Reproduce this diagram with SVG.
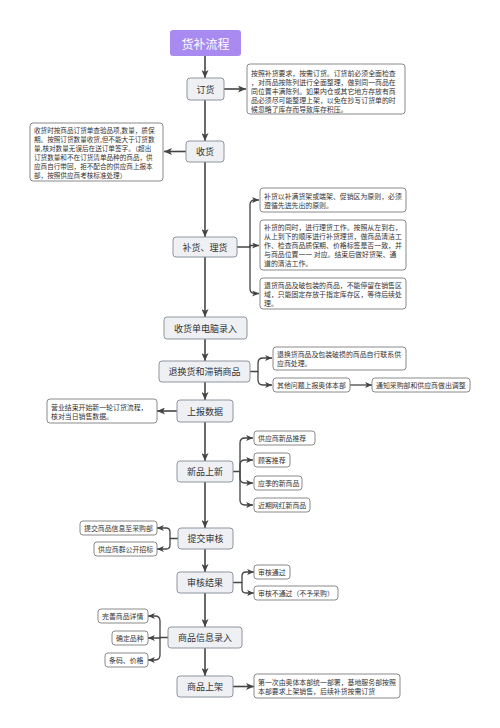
<svg xmlns="http://www.w3.org/2000/svg" width="500" height="728" viewBox="0 0 500 728">
<defs>
<marker id="ah" viewBox="0 0 8 7" refX="8" refY="3.5" markerWidth="8" markerHeight="7" markerUnits="userSpaceOnUse" orient="auto">
<path d="M0,0 L8,3.5 L0,7 L2,3.5 z" fill="#444"/>
</marker>
<marker id="ahs" viewBox="0 0 8 7" refX="8" refY="3.5" markerWidth="7" markerHeight="6" markerUnits="userSpaceOnUse" orient="auto">
<path d="M0,0 L8,3.5 L0,7 L2,3.5 z" fill="#444"/>
</marker>
</defs>
<style>
text{font-family:"Noto Sans CJK SC","Noto Sans",sans-serif;fill:#333;dominant-baseline:central}
.node rect{fill:#eef0f4;stroke:#8e949e;stroke-width:1}
.node text{font-size:9px;text-anchor:middle}
.note rect{fill:#fff;stroke:#7e7e7e;stroke-width:0.9}
.note text{font-size:6.9px}
.main{stroke:#444;stroke-width:1.6;fill:none;marker-end:url(#ah)}
.br{stroke:#444;stroke-width:1.3;fill:none;marker-end:url(#ahs)}
</style>
<rect width="500" height="728" fill="#fff"/>

<g id="connectors">
<path class="main" d="M205,56 V78"/>
<path class="main" d="M205,100 V141"/>
<path class="main" d="M205,162 V237"/>
<path class="main" d="M205,257 V317"/>
<path class="main" d="M205,339 V361"/>
<path class="main" d="M205,382 V400"/>
<path class="main" d="M205,422 V461"/>
<path class="main" d="M205,482 V528"/>
<path class="main" d="M205,549 V572"/>
<path class="main" d="M205,593 V627"/>
<path class="main" d="M205,648 V676"/>
<path class="main" d="M224,89 H246"/>
<path class="main" d="M186,151.5 H164"/>
<path class="br" d="M237,247 H250 V205 Q250,200 255,200 H259"/>
<path class="br" d="M250,247 V245.5 H259"/>
<path class="br" d="M250,247 V288.5 Q250,293.5 255,293.5 H259"/>
<path class="br" d="M250,371.5 H258 V363 Q258,358 263,358 H272"/>
<path class="br" d="M258,371.5 V380 Q258,385 263,385 H272"/>
<path class="br" d="M350,385 H372"/>
<path class="main" d="M177,411 H157"/>
<path class="br" d="M233,471.5 H240 V443 Q240,438 245,438 H253"/>
<path class="br" d="M240,471.5 V465 Q240,460 245,460 H253"/>
<path class="br" d="M240,471.5 V478 Q240,483 245,483 H253"/>
<path class="br" d="M240,471.5 V500 Q240,505 245,505 H253"/>
<path class="br" d="M178,538.5 H170 V532 Q170,528 166,528 H157"/>
<path class="br" d="M170,538.5 V545 Q170,549 166,549 H157"/>
<path class="br" d="M233,582.5 H242 V576 Q242,572 246,572 H254"/>
<path class="br" d="M242,582.5 V589 Q242,593 246,593 H254"/>
<path class="br" d="M168,637.5 H160 V621 Q160,616 155,616 H148"/>
<path class="br" d="M160,637.5 V638 H148"/>
<path class="br" d="M160,637.5 V655 Q160,660 155,660 H148"/>
<path class="main" d="M233,686.5 H254"/>
</g>

<g id="title">
<rect x="170" y="30" width="71" height="26" rx="3" fill="#a98af1"/>
<text x="205.5" y="43" style="font-size:12px;fill:#fff;text-anchor:middle">货补流程</text>
</g>

<g id="n-dinghuo" class="node"><rect x="187" y="78" width="37" height="22" rx="3"/><text x="205.5" y="89">订货</text></g>
<g id="n-shouhuo" class="node"><rect x="186" y="141" width="38" height="21" rx="3"/><text x="205" y="151.5">收货</text></g>
<g id="n-buhuo" class="node"><rect x="173" y="237" width="64" height="20" rx="3"/><text x="205" y="247">补货、理货</text></g>
<g id="n-luru" class="node"><rect x="164" y="317" width="83" height="22" rx="3"/><text x="205.5" y="328">收货单电脑录入</text></g>
<g id="n-tuihuan" class="node"><rect x="159" y="361" width="91" height="21" rx="3"/><text x="204.5" y="371.5">退换货和滞销商品</text></g>
<g id="n-shangbao" class="node"><rect x="177" y="400" width="56" height="22" rx="3"/><text x="205" y="411">上报数据</text></g>
<g id="n-xinpin" class="node"><rect x="177" y="461" width="56" height="21" rx="3"/><text x="205" y="471.5">新品上新</text></g>
<g id="n-tijiao" class="node"><rect x="178" y="528" width="55" height="21" rx="3"/><text x="205.5" y="538.5">提交审核</text></g>
<g id="n-jieguo" class="node"><rect x="177" y="572" width="56" height="21" rx="3"/><text x="205" y="582.5">审核结果</text></g>
<g id="n-xinxi" class="node"><rect x="168" y="627" width="74" height="21" rx="3"/><text x="205" y="637.5">商品信息录入</text></g>
<g id="n-shangjia" class="node"><rect x="177" y="676" width="56" height="21" rx="3"/><text x="205" y="686.5">商品上架</text></g>

<g id="note-dinghuo" class="note"><rect x="247" y="64" width="158" height="50" rx="3"/>
<text x="251" y="72.5">按照补货要求，按需订货。订货前必须全面检查</text>
<text x="251" y="81.5">，对商品按陈列进行全面整理，做到同一商品在</text>
<text x="251" y="90.5">同位置丰满陈列。如果内仓或其它地方存放有商</text>
<text x="251" y="99.5">品必须尽可能整理上架，以免在抄写订货单的时</text>
<text x="251" y="108.5">候忽略了库存而导致库存积压。</text>
</g>

<g id="note-shouhuo" class="note"><rect x="30" y="123" width="133" height="58" rx="3"/>
<text x="34" y="129.5" style="font-size:6.6px">收货时按商品订货单查验品项,数量，质保</text>
<text x="34" y="138.5" style="font-size:6.6px">期。按照订货数量收货,但不能大于订货数</text>
<text x="34" y="147.5" style="font-size:6.6px">量,核对数量无误后在送订单签字。（超出</text>
<text x="34" y="156.5" style="font-size:6.6px">订货数量和不在订货清单品种的商品，供</text>
<text x="34" y="165.5" style="font-size:6.6px">应商自行带回，拒不配合的供应商上报本</text>
<text x="34" y="174.5" style="font-size:6.6px">部，按照供应商考核标准处理）</text>
</g>

<g id="note-buhuo1" class="note"><rect x="260" y="188" width="146" height="24" rx="3"/>
<text x="264" y="195.5">补货以补满货架或端架、促销区为原则，必须</text>
<text x="264" y="204.5">遵循先进先出的原则。</text>
</g>
<g id="note-buhuo2" class="note"><rect x="260" y="220" width="146" height="50" rx="3"/>
<text x="264" y="227">补货的同时，进行理货工作。按照从左到右，</text>
<text x="264" y="236">从上到下的顺序进行补货理货，做商品清洁工</text>
<text x="264" y="245">作、检查商品质保期、价格标签是否一致，并</text>
<text x="264" y="254">与商品位置一一 对应。结束后做好货架、通</text>
<text x="264" y="263">道的清洁工作。</text>
</g>
<g id="note-buhuo3" class="note"><rect x="260" y="278" width="146" height="31" rx="3"/>
<text x="264" y="284.5">退货商品及破包装的商品，不能停留在销售区</text>
<text x="264" y="293.5">域，只能固定存放于指定库存区，等待后续处</text>
<text x="264" y="302.5">理。</text>
</g>

<g id="note-tuihuan1" class="note"><rect x="273" y="347" width="133" height="23" rx="3"/>
<text x="277" y="354">退换货商品及包装破损的商品自行联系供</text>
<text x="277" y="363">应商处理。</text>
</g>
<g id="note-qita" class="note"><rect x="273" y="378" width="77" height="14" rx="3"/>
<text x="277" y="385">其他问题上报奥体本部</text>
</g>
<g id="note-tongzhi" class="note"><rect x="372" y="378" width="98" height="14" rx="3"/>
<text x="376" y="385">通知采购部和供应商做出调整</text>
</g>

<g id="note-shangbao" class="note"><rect x="47" y="399" width="110" height="24" rx="3"/>
<text x="51" y="406.5">营业结束开始新一轮订货流程，</text>
<text x="51" y="415.5">核对当日销售数据。</text>
</g>

<g id="item-gys" class="note"><rect x="254" y="431" width="61" height="14" rx="3"/><text x="258" y="438">供应商新品推荐</text></g>
<g id="item-gk" class="note"><rect x="254" y="453" width="36" height="14" rx="3"/><text x="258" y="460">顾客推荐</text></g>
<g id="item-yj" class="note"><rect x="254" y="476" width="48" height="14" rx="3"/><text x="258" y="483">应季的新商品</text></g>
<g id="item-wh" class="note"><rect x="254" y="498" width="56" height="14" rx="3"/><text x="258" y="505">近期网红新商品</text></g>

<g id="item-tj" class="note"><rect x="80" y="521" width="77" height="14" rx="3"/><text x="84" y="528">提交商品信息至采购部</text></g>
<g id="item-zb" class="note"><rect x="94" y="542" width="63" height="14" rx="3"/><text x="98" y="549">供应商群公开招标</text></g>

<g id="item-tg" class="note"><rect x="254" y="565" width="36" height="14" rx="3"/><text x="258" y="572">审核通过</text></g>
<g id="item-btg" class="note"><rect x="254" y="586" width="84" height="14" rx="3"/><text x="258" y="593">审核不通过（不予采购）</text></g>

<g id="item-ws" class="note"><rect x="98" y="609" width="50" height="14" rx="3"/><text x="102" y="616">完善商品详情</text></g>
<g id="item-qd" class="note"><rect x="112" y="631" width="36" height="14" rx="3"/><text x="116" y="638">确定品种</text></g>
<g id="item-tm" class="note"><rect x="105" y="653" width="43" height="14" rx="3"/><text x="109" y="660">条码、价格</text></g>

<g id="note-shangjia" class="note"><rect x="254" y="674" width="146" height="24" rx="3"/>
<text x="258" y="681.5">第一次由奥体本部统一部署，基地服务部按照</text>
<text x="258" y="690.5">本部要求上架销售，后续补货按需订货</text>
</g>
</svg>
